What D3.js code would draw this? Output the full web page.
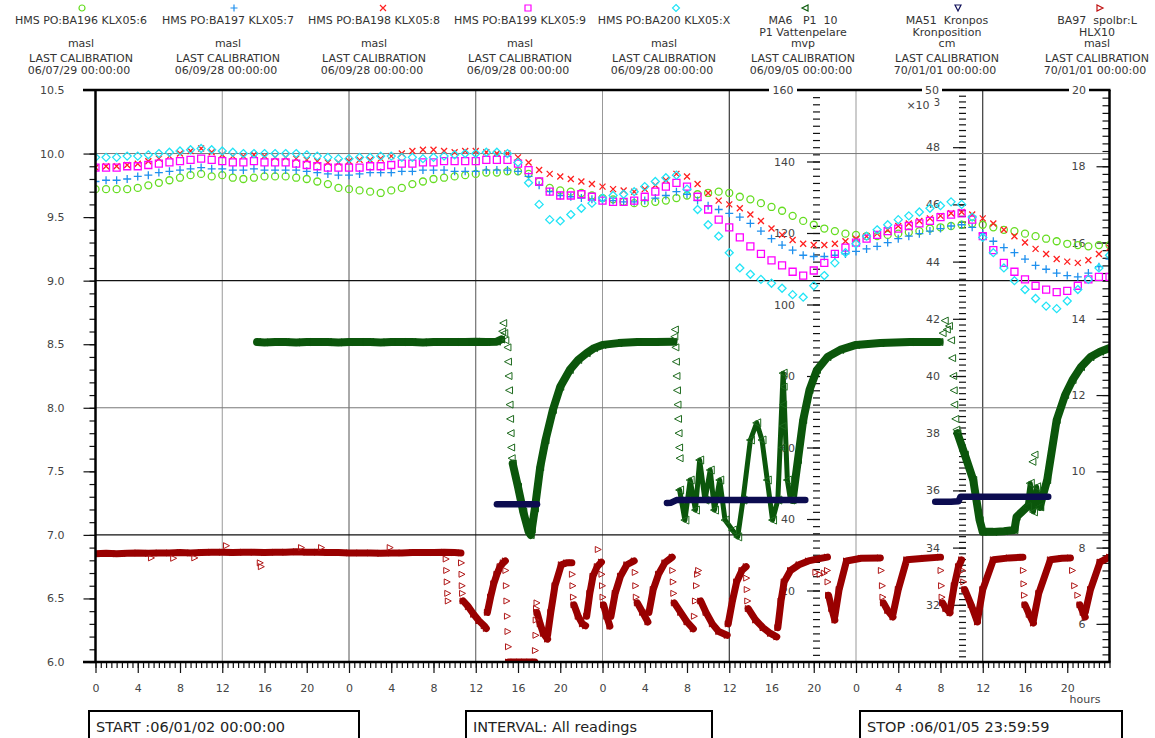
<!DOCTYPE html>
<html>
<head>
<meta charset="utf-8">
<script src="https://cdn.jsdelivr.net/npm/d3@7"></script>
<style>
  html, body { margin: 0; padding: 0; background: #fff; overflow: hidden; }
  svg { display: block; }
  text { font-family: "DejaVu Sans", Verdana, sans-serif; }
</style>
</head>
<body>
<svg id="chart" width="1155" height="738"></svg>
<script>
// ---------------------------------------------------------------------------
// Readings 06/01/02 00:00 – 06/01/05 23:59, time in hours from start
// ---------------------------------------------------------------------------
const hours = d3.range(0, 97);

// Groundwater levels (masl), hourly
const ba196 = [
  9.72,9.72,9.72,9.72,9.73,9.75,9.77,9.79,9.81,9.83,9.84,9.82,
  9.83,9.81,9.80,9.81,9.82,9.82,9.82,9.81,9.80,9.78,9.76,9.73,
  9.72,9.71,9.70,9.69,9.71,9.73,9.76,9.78,9.80,9.81,9.82,9.83,
  9.84,9.85,9.85,9.86,9.86,9.84,9.78,9.73,9.71,9.70,9.69,9.67,
  9.65,9.64,9.62,9.61,9.61,9.62,9.63,9.65,9.67,9.68,9.69,9.70,
  9.69,9.66,9.64,9.61,9.58,9.55,9.51,9.47,9.44,9.41,9.39,9.37,
  9.36,9.35,9.35,9.36,9.37,9.38,9.39,9.41,9.42,9.43,9.44,9.45,
  9.44,9.42,9.40,9.39,9.37,9.35,9.33,9.31,9.29,9.28,9.27,9.28,
  9.28];
const ba197 = [
  9.78,9.79,9.79,9.80,9.82,9.83,9.85,9.86,9.87,9.88,9.89,9.88,
  9.88,9.87,9.87,9.88,9.87,9.87,9.87,9.87,9.86,9.85,9.84,9.83,
  9.83,9.84,9.85,9.85,9.85,9.86,9.86,9.87,9.87,9.87,9.86,9.86,
  9.86,9.87,9.87,9.87,9.86,9.82,9.75,9.70,9.67,9.66,9.65,9.64,
  9.63,9.63,9.62,9.62,9.63,9.65,9.67,9.70,9.68,9.63,9.59,9.56,
  9.53,9.50,9.45,9.39,9.33,9.28,9.24,9.20,9.19,9.19,9.20,9.21,
  9.23,9.25,9.27,9.30,9.33,9.35,9.37,9.39,9.41,9.43,9.44,9.42,
  9.37,9.31,9.26,9.22,9.17,9.12,9.09,9.06,9.04,9.03,9.06,9.11,
  9.17];
const ba198 = [
  9.89,9.90,9.90,9.91,9.92,9.94,9.96,9.98,10.00,10.02,10.04,10.01,
  9.99,9.98,9.98,9.99,9.98,9.97,9.97,9.96,9.95,9.94,9.93,9.93,
  9.94,9.95,9.95,9.96,9.98,10.00,10.02,10.03,10.03,10.02,10.01,10.02,
  10.02,10.01,10.00,10.00,9.97,9.93,9.87,9.84,9.82,9.80,9.78,9.76,
  9.74,9.72,9.71,9.70,9.72,9.75,9.79,9.84,9.82,9.76,9.69,9.63,
  9.60,9.57,9.52,9.47,9.41,9.36,9.32,9.29,9.28,9.28,9.29,9.31,
  9.33,9.35,9.37,9.40,9.43,9.45,9.47,9.49,9.51,9.53,9.54,9.52,
  9.49,9.45,9.40,9.35,9.30,9.25,9.21,9.17,9.15,9.14,9.16,9.21,
  9.26];
const ba199 = [
  9.89,9.89,9.89,9.90,9.90,9.91,9.92,9.93,9.94,9.95,9.96,9.95,
  9.94,9.93,9.93,9.94,9.93,9.93,9.93,9.92,9.91,9.90,9.89,9.89,
  9.89,9.89,9.90,9.90,9.91,9.92,9.92,9.93,9.93,9.94,9.94,9.94,
  9.94,9.95,9.95,9.95,9.92,9.87,9.78,9.70,9.67,9.67,9.68,9.66,
  9.63,9.62,9.62,9.63,9.66,9.70,9.74,9.77,9.74,9.66,9.56,9.48,
  9.42,9.34,9.27,9.21,9.16,9.12,9.07,9.04,9.08,9.14,9.21,9.26,
  9.30,9.33,9.36,9.39,9.41,9.43,9.45,9.47,9.50,9.52,9.53,9.48,
  9.35,9.24,9.14,9.07,9.01,8.96,8.93,8.91,8.92,8.96,9.01,9.03,
  9.03];
const ba200 = [
  9.97,9.97,9.97,9.98,9.98,9.99,10.00,10.01,10.02,10.03,10.04,10.03,
  10.02,10.01,10.00,10.00,10.00,10.00,10.00,10.00,9.99,9.98,9.97,9.96,
  9.96,9.97,9.97,9.98,9.98,9.97,9.97,9.96,9.97,9.98,9.99,10.00,
  10.00,10.01,10.01,10.00,9.93,9.77,9.60,9.48,9.47,9.52,9.57,9.61,
  9.65,9.67,9.68,9.70,9.74,9.78,9.81,9.83,9.72,9.56,9.44,9.35,
  9.22,9.10,9.05,9.01,8.98,8.94,8.89,8.87,8.96,9.04,9.14,9.22,
  9.29,9.35,9.40,9.44,9.48,9.51,9.54,9.57,9.59,9.62,9.60,9.50,
  9.34,9.22,9.10,9.00,8.93,8.86,8.80,8.78,8.84,8.93,9.01,9.10,
  9.20];

// MA6 P1 water column (mvp): continuous runs [hour, value]
const ma6Runs = [
  [[15.3,89.5],[16,89.4],[17,89.5],[18,89.5],[19,89.4],[20,89.5],[21,89.5],[22,89.5],
   [23,89.4],[24,89.5],[25,89.5],[26,89.5],[27,89.4],[28,89.5],[29,89.5],[30,89.5],
   [31,89.4],[32,89.5],[33,89.5],[34,89.5],[35,89.5],[36,89.6],[37,89.5],[38,89.6],[38.4,90.2]],
  [[39.5,55.5],[40.0,49],[40.5,42],[41.0,36.5],[41.2,35.5],[41.3,37],[41.6,43],[42.1,54.5],
   [42.6,62],[43.3,70.5],[44.0,77],[44.9,81.7],[45.7,84.5],[46.5,86.4],[47.2,87.8],[48.0,88.7],
   [49.5,89.2],[51.3,89.5],[53,89.5],[54.7,89.6]],
  [[66.0,45.3],[66.5,56.5],[67.0,67.7],[67.6,76.1],[68.3,81.7],[69.3,85.3],[70.5,87.3],
   [72.0,88.7],[74.3,89.2],[77.1,89.5],[79.9,89.5]],
  [[81.6,64],[82.3,58],[83.1,50.9],[83.7,39.7],[84.0,36.4],[85,36.4],[86,36.6],[87,36.9],
   [87.2,40.6],[88.2,43.4]],
  [[89.4,43.4],[90.1,50.9],[91.0,67.7],[91.8,74.7],[92.5,78.9],[93.3,82.5],[94.2,85.3],
   [95.1,86.8],[96,87.8]]
];
// MA6 unsettled stretches during pumping
const ma6Unsettled = [
  [[55.3,48.1],[55.8,39.7],[56.3,50.9],[56.8,42.5],[57.2,56.5],[57.7,45.3],[58.2,53.7],
   [58.6,42.5],[59.1,50.9],[59.6,39.7],[60.3,36.9],[60.8,35.0],[61.3,45.3],[62.0,62.1],
   [62.6,66.9],[63.1,62.1],[63.6,50.9],[64.1,39.7],[64.6,45.3],[65.1,80.8],[65.5,50.9],[65.8,45.3]],
  [[88.2,43.4],[88.5,50],[88.8,42],[89.1,49],[89.4,43.4]]
];
// MA6 single readings on fast transitions
const ma6Single = [
  [38.5,92.5],[38.6,94.8],[38.7,92],[38.8,90],[39.0,88],[39.05,84],[39.1,80],[39.15,76],
  [39.2,72],[39.25,68],[39.3,64],[39.35,60],[39.4,57],
  [54.8,91],[54.85,93],[54.9,88],[54.95,84],[55.0,80],[55.05,76],[55.1,72],[55.15,68],
  [55.2,64],[55.25,60],[55.3,57],
  [65.0,60],[65.05,66],[65.1,72],[65.15,77],
  [80.2,92],[80.4,95.5],[80.6,93],[80.8,94],[81.0,90],[81.1,85],[81.2,80],[81.25,76],
  [81.3,72],[81.4,68],[81.5,65],
  [88.7,56],[88.9,58]
];

// MA51 crown position (cm, x10^3)
const ma51Runs = [
  [[38.0,35.52],[38.5,35.52],[39,35.52],[39.5,35.52],[40,35.52],[40.5,35.52],[41,35.52],
   [41.5,35.52],[41.8,35.52]],
  [[54.1,35.56],[54.5,35.57],[55,35.66],[56,35.66],[57,35.66],[58,35.66],[59,35.66],
   [60,35.66],[61,35.66],[62,35.66],[63,35.66],[64,35.66],[65,35.66],[66,35.66],[67.2,35.66]],
  [[79.5,35.6],[80,35.6],[81,35.6],[81.7,35.62],[81.9,35.78],[83,35.78],[84,35.78],
   [85,35.78],[86,35.78],[87,35.78],[88,35.78],[89,35.78],[90.2,35.78]]
];

// BA97 spolbr:L HLX10 (masl): continuous runs
const ba97Runs = [
  [[0,7.84],[1,7.85],[2,7.84],[3,7.85],[4,7.86],[5,7.85],[6,7.86],[7,7.86],[8,7.87],[9,7.86],
   [10,7.87],[11,7.88],[12,7.88],[13,7.87],[14,7.88],[15,7.88],[16,7.87],[17,7.88],[18,7.88],
   [19,7.89],[20,7.88],[21,7.88],[22,7.87],[23,7.87],[24,7.86],[25,7.86],[26,7.86],[27,7.85],
   [28,7.86],[29,7.86],[30,7.87],[31,7.87],[32,7.87],[33,7.88],[34,7.87],[34.6,7.86]],
  [[34.8,6.6],[35.3,6.45],[35.8,6.25],[36.3,6.08],[36.8,5.95],[37.0,5.88]],
  [[37.1,6.3],[37.4,6.7],[37.7,7.05],[38.0,7.3],[38.3,7.5],[38.6,7.6],[38.8,7.65]],
  [[39.1,5.0],[39.6,5.0],[40.1,5.0],[40.6,5.0],[41.1,5.0],[41.6,5.0]],
  [[41.8,6.3],[42.1,6.0],[42.4,5.75],[42.8,5.6]],
  [[42.8,5.7],[43.1,6.3],[43.5,7.0],[44.1,7.55],[44.6,7.6],[45.1,7.6]],
  [[45.3,6.5],[45.7,6.2],[46.1,6.0],[46.4,5.95]],
  [[46.5,6.2],[46.8,6.8],[47.1,7.25],[47.5,7.5],[47.9,7.62]],
  [[48.1,6.5],[48.4,6.2],[48.7,5.94]],
  [[48.8,6.2],[49.2,6.8],[49.7,7.25],[50.3,7.55],[51.0,7.65]],
  [[51.3,6.55],[51.8,6.3],[52.3,6.05]],
  [[52.4,6.3],[52.8,6.9],[53.3,7.3],[53.9,7.6],[54.6,7.75]],
  [[54.8,6.55],[55.4,6.3],[56.0,6.05],[56.6,5.87]],
  [[57.3,6.6],[57.8,6.3],[58.4,6.0],[59.0,5.8],[59.8,5.7]],
  [[59.9,6.0],[60.3,6.6],[60.7,7.1],[61.2,7.4],[61.6,7.5]],
  [[61.8,6.4],[62.5,6.1],[63.2,5.9],[63.9,5.75],[64.5,5.66]],
  [[64.6,5.9],[64.9,6.6],[65.2,7.1],[65.8,7.4],[66.6,7.55],[67.5,7.65],[68.3,7.7],[69.3,7.75]],
  [[69.4,6.75],[69.7,6.4],[70.0,6.1]],
  [[70.0,6.2],[70.4,6.9],[71.1,7.65],[72.5,7.72],[74.3,7.73]],
  [[74.6,6.55],[75.0,6.35],[75.5,6.18]],
  [[75.5,6.25],[76.0,6.9],[76.8,7.68],[78.5,7.72],[80.0,7.75]],
  [[80.2,6.55],[80.5,6.4],[80.9,6.29]],
  [[80.9,6.35],[81.3,7.0],[81.7,7.5],[82.0,7.68]],
  [[82.3,6.9],[82.9,6.5],[83.5,6.05]],
  [[83.5,6.1],[84.0,6.9],[85.0,7.68],[86.5,7.73],[87.8,7.75]],
  [[88.0,6.5],[88.4,6.25],[88.8,6.02]],
  [[88.8,6.1],[89.3,6.8],[90.4,7.68],[91.5,7.72],[92.3,7.73]],
  [[93.2,6.5],[93.5,6.3],[93.7,6.18]],
  [[93.7,6.3],[94.2,6.9],[95.1,7.62],[96,7.75]]
];
// BA97 single readings (steps and stray values)
const ba97Single = [
  [5.3,7.73],[7.4,7.72],[9.4,7.73],[12.4,8.05],[15.6,7.6],[15.7,7.5],[19.5,8.0],[21.4,8.0],[27.9,8.0],
  [33.2,7.7],[33.25,7.4],[33.3,7.1],[33.35,6.8],[33.4,6.6],
  [34.65,7.6],[34.7,7.3],[34.72,7.0],[34.75,6.8],
  [38.85,7.4],[38.9,7.0],[38.95,6.6],[39.0,6.2],[39.05,5.8],[39.1,5.4],
  [41.65,5.3],[41.7,5.7],[41.72,6.1],[41.75,6.4],[41.8,6.55],
  [45.15,7.3],[45.2,7.0],[45.25,6.7],
  [47.6,7.95],[47.95,7.3],[48.0,7.0],[48.05,6.7],
  [51.1,7.35],[51.15,7.0],[51.2,6.7],
  [54.65,7.4],[54.7,7.1],[54.75,6.8],
  [56.7,6.2],[56.8,6.6],[56.9,7.0],[57.0,7.3],[57.1,7.4],
  [61.65,7.2],[61.7,6.9],[61.75,6.6],
  [68.2,7.35],[68.6,7.3],[69.0,7.33],[69.3,7.4],[69.35,7.1],
  [74.4,7.4],[74.5,7.0],[74.55,6.7],
  [80.05,7.4],[80.1,7.0],[80.15,6.7],
  [82.1,7.4],[82.2,7.1],
  [87.85,7.4],[87.9,7.05],[87.95,6.75],
  [92.5,7.4],[92.7,7.0],[93.0,6.75]
];

// Legend texts
const seriesNames = [
  ["HMS PO:BA196 KLX05:6"], ["HMS PO:BA197 KLX05:7"], ["HMS PO:BA198 KLX05:8"],
  ["HMS PO:BA199 KLX05:9"], ["HMS PO:BA200 KLX05:X"],
  ["MA6   P1  10", "P1 Vattenpelare"], ["MA51  Kronpos", "Kronposition"], ["BA97  spolbr:L", "HLX10"]
];
const seriesUnits = ["masl", "masl", "masl", "masl", "masl", "mvp", "cm", "masl"];
const calibrations = [
  "06/07/29 00:00:00", "06/09/28 00:00:00", "06/09/28 00:00:00", "06/09/28 00:00:00",
  "06/09/28 00:00:00", "06/09/05 00:00:00", "70/01/01 00:00:00", "70/01/01 00:00:00"
];
const startText = "START :06/01/02 00:00:00";
const intervalText = "INTERVAL: All readings";
const stopText = "STOP :06/01/05 23:59:59";

// ---------------------------------------------------------------------------
const svg = d3.select("#chart");
const L = 95.5, R = 1109.5, T = 90, B = 662;

const x = d3.scaleLinear().domain([0, 96]).range([L, R]);
const yMasl = d3.scaleLinear().domain([6, 10.5]).range([B, T]);
const yMvp = d3.scaleLinear().domain([0, 160]).range([B, T]);
const yCm = d3.scaleLinear().domain([30, 50]).range([B, T]);
const yHlx = d3.scaleLinear().domain([5, 20]).range([B, T]);

function marker(kind, r) {
  switch (kind) {
    case "circle": return `M${-r},0a${r},${r} 0 1,0 ${2*r},0a${r},${r} 0 1,0 ${-2*r},0`;
    case "plus": return `M${-r},0H${r}M0,${-r}V${r}`;
    case "times": return `M${-r},${-r}L${r},${r}M${-r},${r}L${r},${-r}`;
    case "square": return `M${-r},${-r}h${2*r}v${2*r}h${-2*r}Z`;
    case "diamond": return `M0,${-r}L${r},0L0,${r}L${-r},0Z`;
    case "triLeft": return `M${-r},0L${r},${-r}L${r},${r}Z`;
    case "triRight": return `M${r},0L${-r},${-r}L${-r},${r}Z`;
    case "triDown": return `M${-r},${-r}L${r},${-r}L0,${r}Z`;
  }
}

const legendStyle = [
  {shape: "circle", color: "#66dd22", r: 3},
  {shape: "plus", color: "#1e90ee", r: 3.5},
  {shape: "times", color: "#ff2020", r: 3},
  {shape: "square", color: "#ff00ff", r: 3},
  {shape: "diamond", color: "#22e4f6", r: 3.5},
  {shape: "triLeft", color: "#0d5c0d", r: 3},
  {shape: "triDown", color: "#10105a", r: 3},
  {shape: "triRight", color: "#c01010", r: 3}
];

// ---------------- header legend ----------------
const colX = [81, 228, 374, 520, 664, 803, 947, 1097];
const markX = [82, 234, 383, 528, 676, 805, 958, 1100];
const header = svg.append("g").attr("fill", "#333").attr("font-size", 11);
seriesNames.forEach((lines, i) => {
  header.append("path")
    .attr("transform", `translate(${markX[i]},8)`)
    .attr("d", marker(legendStyle[i].shape, legendStyle[i].r))
    .attr("fill", "none").attr("stroke", legendStyle[i].color).attr("stroke-width", 1.2);
  lines.forEach((t, j) => {
    header.append("text").attr("x", colX[i]).attr("y", 24 + j * 12)
      .attr("text-anchor", "middle").style("white-space", "pre").text(t);
  });
  header.append("text").attr("x", colX[i]).attr("y", 47).attr("text-anchor", "middle").text(seriesUnits[i]);
  header.append("text").attr("x", colX[i]).attr("y", 62).attr("text-anchor", "middle").text("LAST CALIBRATION");
  header.append("text").attr("x", colX[i] - 2).attr("y", 74).attr("text-anchor", "middle").text(calibrations[i]);
});

// ---------------- grid ----------------
const grid = svg.append("g");
const vGridShade = ["#999", "#555", "#555", "#999", "#111", "#999", "#111"];
d3.range(12, 96, 12).forEach((h, i) => {
  grid.append("line").attr("x1", x(h)).attr("x2", x(h)).attr("y1", T).attr("y2", B)
    .attr("stroke", vGridShade[i]).attr("stroke-width", 1);
});
[[10, "#777"], [9, "#111"], [8, "#777"], [7, "#111"]].forEach(([v, c]) => {
  grid.append("line").attr("x1", L).attr("x2", R).attr("y1", yMasl(v)).attr("y2", yMasl(v))
    .attr("stroke", c).attr("stroke-width", c === "#111" ? 1.3 : 1);
});

// ---------------- axes ----------------
function styleAxis(g) {
  g.select(".domain").remove();
  g.selectAll(".tick line").attr("stroke", "#111").attr("stroke-width", 1.2);
  g.selectAll(".tick text").attr("fill", "#444").attr("font-size", 11)
    .attr("font-family", '"DejaVu Sans", Verdana, sans-serif');
}
// left masl axis
svg.append("g").attr("transform", `translate(${L},0)`)
  .call(d3.axisLeft(yMasl).tickValues(d3.range(6, 10.01, 0.1)).tickSize(6).tickFormat(""))
  .call(styleAxis);
svg.append("g").attr("transform", `translate(${L},0)`)
  .call(d3.axisLeft(yMasl).tickValues(d3.range(6, 10.51, 0.5)).tickSize(12).tickPadding(19)
    .tickFormat(d3.format(".1f")))
  .call(styleAxis);

// time axis
svg.append("g").attr("transform", `translate(0,${B})`)
  .call(d3.axisBottom(x).tickValues(d3.range(0, 96.01, 0.5)).tickSize(6).tickFormat(""))
  .call(styleAxis);
svg.append("g").attr("transform", `translate(0,${B})`)
  .call(d3.axisBottom(x).tickValues(d3.range(0, 96, 4)).tickSize(11).tickPadding(11)
    .tickFormat(h => h % 24))
  .call(styleAxis);
svg.append("text").attr("x", 1085).attr("y", 703).attr("font-size", 11).attr("fill", "#444")
  .attr("text-anchor", "middle").text("hours");

// inner axes for the other units (top value is written on the frame)
function innerAxis(scale, xPos, step, minorStep, pad) {
  const [lo, hi] = scale.domain();
  const first = Math.ceil((lo + 1e-6) / step) * step;
  const firstMinor = Math.ceil((lo + 1e-6) / minorStep) * minorStep;
  svg.append("g").attr("transform", `translate(${xPos},0)`)
    .call(d3.axisLeft(scale).tickValues(d3.range(firstMinor, hi - minorStep / 2, minorStep))
      .tickSize(7).tickFormat(""))
    .call(styleAxis);
  svg.append("g").attr("transform", `translate(${xPos},0)`)
    .call(d3.axisLeft(scale).tickValues(d3.range(first, hi - step / 2, step))
      .tickSize(13).tickPadding(pad).tickFormat(d3.format("d")))
    .call(styleAxis);
}
innerAxis(yMvp, 820, 20, 2, 12);
innerAxis(yCm, 966, 2, 0.2, 13);
innerAxis(yHlx, 1109.5, 2, 0.2, 11);
svg.append("text").attr("x", 918).attr("y", 109).attr("font-size", 11).attr("fill", "#444")
  .attr("text-anchor", "middle").text("\u00d710");
svg.append("text").attr("x", 937).attr("y", 106).attr("font-size", 10).attr("fill", "#444")
  .attr("text-anchor", "middle").text("3");

// ---------------- data ----------------
svg.append("clipPath").attr("id", "plotClip")
  .append("rect").attr("x", L).attr("y", T).attr("width", R - L).attr("height", B - T);
const data = svg.append("g").attr("clip-path", "url(#plotClip)");

const hmsSeries = [ba196, ba197, ba198, ba199, ba200];
const hmsSize = [3.5, 4, 3, 3.5, 4];
hmsSeries.forEach((vals, k) => {
  data.append("g").selectAll("path").data(hours).join("path")
    .attr("transform", (h, i) => `translate(${x(h)},${yMasl(vals[i])})`)
    .attr("d", marker(legendStyle[k].shape, hmsSize[k]))
    .attr("fill", "none").attr("stroke", legendStyle[k].color).attr("stroke-width", 1.3);
});

function runs(g, list, yScale, color, width) {
  const line = d3.line().x(d => x(d[0])).y(d => yScale(d[1]));
  g.append("g").selectAll("path").data(list).join("path")
    .attr("d", line).attr("fill", "none").attr("stroke", color)
    .attr("stroke-width", width).attr("stroke-linejoin", "round").attr("stroke-linecap", "round");
}
function points(g, list, yScale, shape, color, r) {
  g.append("g").selectAll("path").data(list).join("path")
    .attr("transform", d => `translate(${x(d[0])},${yScale(d[1])})`)
    .attr("d", marker(shape, r)).attr("fill", "none").attr("stroke", color).attr("stroke-width", 1);
}

// MA6
runs(data, ma6Runs, yMvp, "#0b560b", 8);
runs(data, ma6Unsettled, yMvp, "#0b560b", 5);
points(data, ma6Unsettled.flat(), yMvp, "triLeft", "#1d6a1d", 4);
points(data, ma6Single, yMvp, "triLeft", "#1d6a1d", 3.5);
points(data, ma6Runs.flat(), yMvp, "triLeft", "#0b560b", 3.5);

// MA51
runs(data, ma51Runs, yCm, "#0c0c50", 6.5);

// BA97
runs(data, ba97Runs, yHlx, "#990000", 7);
points(data, ba97Single, yHlx, "triRight", "#b01818", 3);
points(data, ba97Runs.flat(), yHlx, "triRight", "#990000", 3);

// ---------------- frame ----------------
const frame = svg.append("g").attr("stroke", "#000").attr("stroke-width", 2.5);
frame.append("line").attr("x1", 83).attr("x2", R + 1).attr("y1", T).attr("y2", T);
frame.append("line").attr("x1", 83).attr("x2", R + 1).attr("y1", B).attr("y2", B);
frame.append("line").attr("x1", L).attr("x2", L).attr("y1", T).attr("y2", B);
frame.append("line").attr("x1", R).attr("x2", R).attr("y1", T).attr("y2", B);

// top labels sitting on the frame
[[783, "160"], [932, "50"], [1079, "20"]].forEach(([cx, t]) => {
  svg.append("rect").attr("x", cx - t.length * 4 - 2).attr("y", T - 3)
    .attr("width", t.length * 8 + 4).attr("height", 6).attr("fill", "#fff");
  svg.append("text").attr("x", cx).attr("y", T + 4).attr("font-size", 11).attr("fill", "#444")
    .attr("text-anchor", "middle").text(t);
});

// ---------------- footer boxes ----------------
const footer = svg.append("g");
[[89, 270, startText], [466, 246, intervalText], [860, 262, stopText]].forEach(([bx, bw, t]) => {
  footer.append("rect").attr("x", bx).attr("y", 711).attr("width", bw).attr("height", 32)
    .attr("fill", "none").attr("stroke", "#000").attr("stroke-width", 2);
  footer.append("text").attr("x", bx + 7).attr("y", 732).attr("font-size", 14.5).attr("fill", "#222")
    .text(t);
});
</script>
</body>
</html>
